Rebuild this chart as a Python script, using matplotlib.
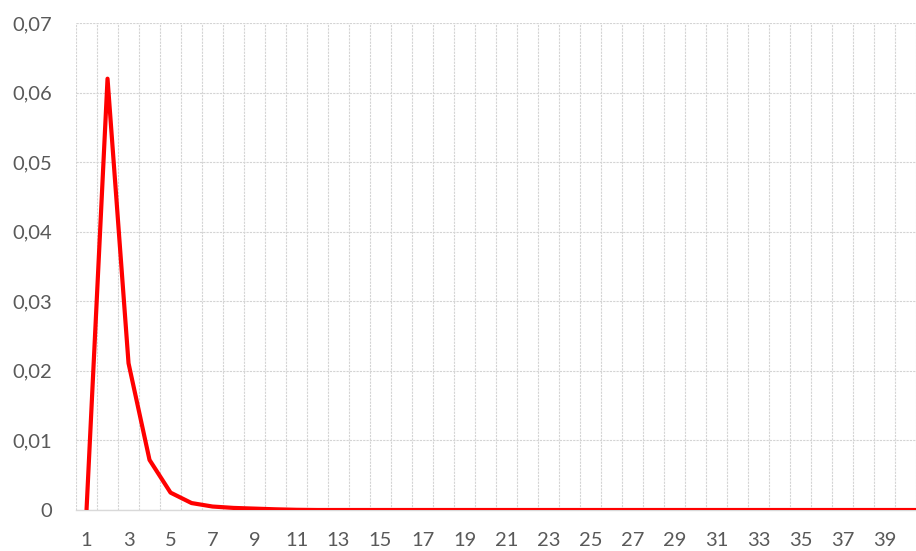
import numpy as np
import matplotlib
matplotlib.use("Agg")
import matplotlib.pyplot as plt
from matplotlib.ticker import FuncFormatter

# values (the chart is cropped on the right, series runs on)
periods = list(range(1, 42))
probs = [0.0, 0.062, 0.0211, 0.0072, 0.0025, 0.0010, 0.0005, 0.0003, 0.0002, 0.0001,
         0.00003] + [0.0] * 30
y_ticks = [0.0, 0.01, 0.02, 0.03, 0.04, 0.05, 0.06, 0.07]
x_labels = list(range(1, 40, 2))

plt.rcParams["font.family"] = ["Lato", "DejaVu Sans"]

fig = plt.figure(figsize=(9.16, 5.51), dpi=100)
ax = fig.add_axes([0.083, 0.0744, 0.917, 0.8838])

ax.plot(periods, probs, color="#ff0000", linewidth=3.0, solid_joinstyle="round",
        solid_capstyle="butt", zorder=3, clip_on=True)

ax.set_xlim(0.5, 40.0)
ax.set_ylim(0, 0.07)

ax.set_xticks(x_labels)
ax.set_xticks(np.arange(0.5, 41, 1.0), minor=True)
ax.set_yticks(y_ticks)
ax.yaxis.set_major_formatter(FuncFormatter(
    lambda v, p: "0" if v == 0 else f"{v:.2f}".replace(".", ",")))

ax.tick_params(axis="both", which="both", length=0, colors="#595959", labelsize=14.5)
ax.tick_params(axis="y", pad=17)
ax.tick_params(axis="x", pad=16)

ax.grid(False)
ax.yaxis.grid(True, which="major", color="#d4d4d4", linewidth=0.8, linestyle=(0, (2, 1)))
ax.xaxis.grid(True, which="minor", color="#d4d4d4", linewidth=0.8, linestyle=(0, (2, 1)))

for s in ["top", "right", "left"]:
    ax.spines[s].set_visible(False)
ax.spines["bottom"].set_color("#d9d9d9")
ax.spines["bottom"].set_linewidth(1.0)

fig.savefig("out.png", dpi=100)
